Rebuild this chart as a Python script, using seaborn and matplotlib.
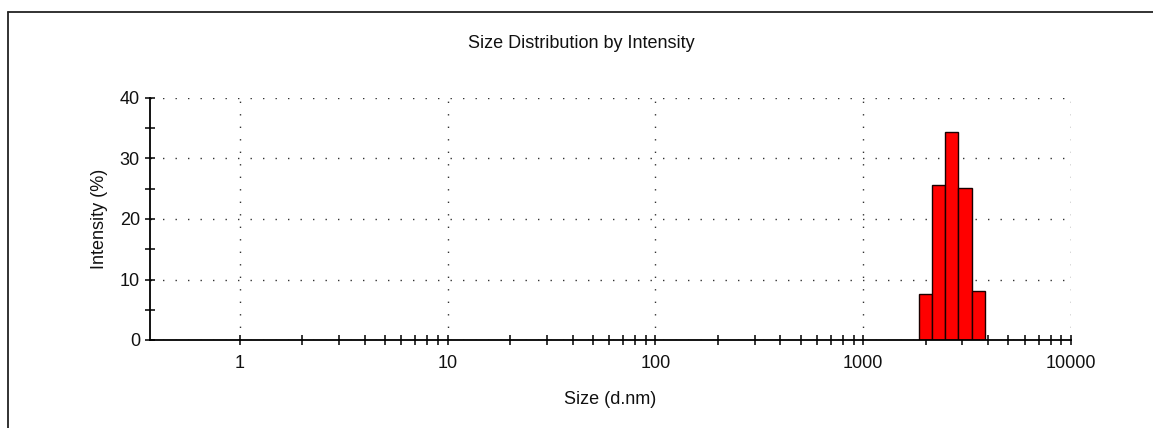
import numpy as np
import pandas as pd
import matplotlib
matplotlib.use("Agg")
import matplotlib.pyplot as plt
import seaborn as sns
from matplotlib.ticker import FixedLocator, MultipleLocator, NullFormatter
from matplotlib.lines import Line2D

# Size classes (nm) and their intensity share (%)
sizes_nm = [1990, 2305, 2669, 3091, 3580]
intensity_pct = [7.6, 25.6, 34.3, 25.1, 8.1]

x_ticks = [1, 10, 100, 1000, 10000]
x_tick_labels = ["1", "10", "100", "1000", "10000"]
y_ticks = [0, 10, 20, 30, 40]

df = pd.DataFrame({"size": sizes_nm, "intensity": intensity_pct})

sns.set_style("white")
plt.rcParams["font.family"] = ["Liberation Sans", "DejaVu Sans"]

W, H = 1153, 428
fig = plt.figure(figsize=(W / 100, H / 100), dpi=100)
ax = fig.add_axes([150 / W, 1 - 340 / H, (1071 - 150) / W, (340 - 98) / H])

# Log-spaced bins centred on each size class
log_c = np.log10(np.asarray(sizes_nm, dtype=float))
step = np.mean(np.diff(log_c))
edges = [float(e) for e in np.concatenate([log_c - step / 2, [log_c[-1] + step / 2]])]

sns.histplot(data=df, x="size", weights="intensity", bins=edges,
             log_scale=True, color="#ff0000", edgecolor="#1a0000",
             linewidth=1.0, alpha=1.0, ax=ax)

ax.set_xlim(0.37, 10000)
ax.set_ylim(0, 40)

# Minor ticks only within the labelled decades (1 .. 10000)
minor_x = [m * d for d in x_ticks[:-1] for m in range(2, 10)]

ax.set_xticks(x_ticks, x_tick_labels)
ax.xaxis.set_minor_locator(FixedLocator(minor_x))
ax.xaxis.set_minor_formatter(NullFormatter())
ax.set_yticks(y_ticks)
ax.yaxis.set_minor_locator(MultipleLocator(5))

ax.tick_params(which="both", bottom=True, left=True, direction="inout",
               length=7, width=1.1, color="black", labelsize=13,
               labelcolor="#111111")
ax.tick_params(axis="y", which="both", length=6.5)
ax.tick_params(axis="x", which="major", pad=7)
ax.tick_params(axis="y", which="major", pad=4)

ax.set_axisbelow(True)
ax.grid(True, which="major", color="#333333", linestyle=(0, (1, 8)),
        linewidth=1.0)
ax.grid(False, which="minor")

for side in ("top", "right"):
    ax.spines[side].set_visible(False)
for side in ("left", "bottom"):
    ax.spines[side].set_color("black")
    ax.spines[side].set_linewidth(1.3)

ax.set_xlabel("Size (d.nm)", fontsize=13, color="#111111")
ax.set_ylabel("Intensity (%)", fontsize=13, color="#111111")
ax.xaxis.label.set_va("center")
ax.yaxis.label.set_va("center")
ax.xaxis.set_label_coords(0.5, (340 - 399) / (340 - 98))
ax.yaxis.set_label_coords((99 - 150) / (1071 - 150), 0.5)

fig.text(581 / W, 1 - 43 / H, "Size Distribution by Intensity",
         ha="center", va="center", fontsize=13, color="#111111")

# Report frame (left and top edges)
fig.add_artist(Line2D([8 / W, 8 / W], [0, 1 - 12 / H], transform=fig.transFigure,
                      color="#222222", linewidth=1.3))
fig.add_artist(Line2D([8 / W, 1], [1 - 12 / H, 1 - 12 / H], transform=fig.transFigure,
                      color="#222222", linewidth=1.3))

fig.savefig("out.png", dpi=100, facecolor="white")
